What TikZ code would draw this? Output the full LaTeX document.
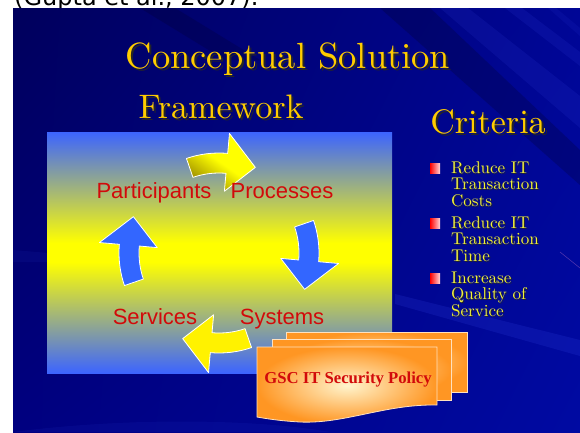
\documentclass[tikz,border=0pt]{standalone}
\usepackage{fontspec}
\newfontfamily\labelfont{Liberation Sans}
\newfontfamily\citefont{DejaVu Sans}
\newfontfamily\policyfont{Liberation Serif}
\newfontfamily\headfont{lmroman10-regular.otf}
\usetikzlibrary{calc,shadings}

\definecolor{slidedark}{RGB}{0,0,92}
\definecolor{slidemid}{RGB}{0,0,128}
\definecolor{slideright}{RGB}{0,6,150}
\definecolor{slidelowright}{RGB}{0,10,162}
\definecolor{streakblue}{RGB}{70,90,255}
\definecolor{streakpink}{RGB}{200,120,200}
\definecolor{fwblue}{RGB}{60,100,255}
\definecolor{cycblue}{RGB}{51,102,255}
\definecolor{arrowdark}{RGB}{160,145,0}
\definecolor{labelred}{RGB}{210,10,10}
\definecolor{titlegold}{RGB}{255,204,0}
\definecolor{crityellow}{RGB}{240,240,60}
\definecolor{docorange}{RGB}{255,150,35}
\definecolor{doccream}{RGB}{255,244,205}
\definecolor{docedge}{RGB}{255,225,190}
\definecolor{bulletpink}{RGB}{255,215,220}

% panel: blue top and bottom, a yellow band across the middle
\pgfdeclareverticalshading{panelshade}{100bp}{%
  color(0bp)=(fwblue); color(25bp)=(fwblue); color(48bp)=(yellow);
  color(52bp)=(yellow); color(75bp)=(fwblue); color(100bp)=(fwblue)}
% top arrow: yellow, darkening towards the underside of its head
\pgfdeclareverticalshading{arrowshade}{100bp}{%
  color(0bp)=(arrowdark); color(27bp)=(arrowdark); color(50bp)=(yellow);
  color(100bp)=(yellow)}

\tikzset{
  headtext/.style={anchor=base, inner sep=0pt, text=titlegold},
  crittext/.style={anchor=base west, inner sep=0pt, text=crityellow,
    font=\headfont\fontsize{17}{17}\selectfont},
  cyclabel/.style={anchor=base, inner sep=0pt, text=labelred,
    font=\labelfont\fontsize{22}{22}\selectfont},
  bluearrow/.style={fill=cycblue, draw=white, line width=0.8pt, line join=round},
  yellowarrow/.style={fill=yellow, draw=white, line width=0.8pt, line join=round},
  doc/.style={inner color=doccream, outer color=docorange,
    draw=docedge, line width=0.8pt},
  bulletbox/.style={minimum size=10pt, inner sep=0pt,
    left color=red, right color=bulletpink},
  streak/.style={fill=streakblue},
}

% text with a dark drop shadow: name, position, style, text
\newcommand{\stext}[5][1.5pt]{%
  \node[#4, text=black!85, xshift=#1, yshift=-#1] (#2-sh) at (#3) {#5};
  \node[#4] (#2) at (#3) {#5};}

% one arrow of the cycle, starting at angle #1 (clockwise on the page)
\newcommand{\cycarrow}[2]{%
  \path[#2] ($(c)+(#1:100)$) arc[start angle=#1, end angle=#1+24, radius=100]
    -- ($(c)+(#1+24:120)$) -- ($(c)+(#1+42:93)$) -- ($(c)+(#1+24:62)$)
    -- ($(c)+(#1+24:80)$) arc[start angle=#1+24, end angle=#1, radius=80]
    -- cycle;}

\begin{document}
\begin{tikzpicture}[x=1pt, y=-1pt]
\useasboundingbox (0,0) rectangle (580,432);
\fill[white] (0,0) rectangle (580,432);

% citation line above the slide, cut by the page edge
\begin{scope}
  \clip (0,0) rectangle (580,8);
  \node[anchor=base west, inner sep=0pt, font=\citefont\fontsize{24}{24}\selectfont]
    (cite) at (14,5) {(Gupta et al., 2007).};
\end{scope}

% slide background
\shade[upper left=slidedark, upper right=slideright,
       lower left=slidemid, lower right=slidelowright] (13,8) rectangle (580,432);
\begin{scope}
  \clip (13,8) rectangle (580,432);
  \fill[streak, opacity=.10] (440,8) -- (468,8) -- (580,96) -- (580,128) -- cycle;
  \fill[streak, opacity=.10] (505,8) -- (522,8) -- (580,52) -- (580,66) -- cycle;
  \fill[streak, opacity=.08] (548,8) -- (556,8) -- (580,28) -- (580,36) -- cycle;
  \fill[black, opacity=.18] (380,8) -- (430,8) -- (580,150) -- (580,185) -- cycle;
  \fill[black, opacity=.15] (140,8) -- (175,8) -- (260,60) -- (225,60) -- cycle;
  \fill[streak, opacity=.14] (395,294) -- (580,340) -- (580,356) -- (395,304) -- cycle;
  \fill[streak, opacity=.07] (13,250) -- (60,254) -- (60,262) -- (13,262) -- cycle;
  \fill[streak, opacity=.07] (13,432) .. controls (120,418) and (250,418) .. (330,432) -- cycle;
  \draw[streakpink, opacity=.5] (560,252) -- (580,268);
\end{scope}

% headings
\stext[2pt]{title}{288,68}{headtext, font=\headfont\fontsize{36.5}{36.5}\selectfont}{Conceptual Solution}
\stext[2pt]{framework}{221,118}{headtext, font=\headfont\fontsize{34}{34}\selectfont}{Framework}
\stext[2pt]{criteria}{488,133}{headtext, font=\headfont\fontsize{34}{34}\selectfont}{Criteria}

% framework panel
\node[minimum width=345pt, minimum height=241pt, inner sep=0pt,
      shading=panelshade] (frame) at (219.5,252.5) {};

% cycle of four curved arrows
\coordinate (c) at (219,253);
\cycarrow{-109}{yellowarrow, shading=arrowshade, shading angle=-35}
\cycarrow{-19}{bluearrow}
\cycarrow{71}{yellowarrow}
\cycarrow{161}{bluearrow}

% cycle labels
\node[cyclabel] (participants) at (154,198) {Participants};
\node[cyclabel] (processes) at (282,198) {Processes};
\node[cyclabel] (systems) at (282,324) {Systems};
\node[cyclabel] (services) at (155,324) {Services};

% criteria list
\node[bulletbox] (b1) at (435,168) {};
\node[bulletbox] (b2) at (435,223) {};
\node[bulletbox] (b3) at (435,278.5) {};
\stext[1pt]{c1a}{451,173}{crittext}{Reduce IT}
\stext[1pt]{c1b}{451,189.5}{crittext}{Transaction}
\stext[1pt]{c1c}{451,206}{crittext}{Costs}
\stext[1pt]{c2a}{451,228}{crittext}{Reduce IT}
\stext[1pt]{c2b}{451,244.5}{crittext}{Transaction}
\stext[1pt]{c2c}{451,261}{crittext}{Time}
\stext[1pt]{c3a}{451,283}{crittext}{Increase}
\stext[1pt]{c3b}{451,299.5}{crittext}{Quality of}
\stext[1pt]{c3c}{451,316}{crittext}{Service}

% stacked policy documents
\path[doc] (286,332) rectangle (467,392);
\path[doc] (272,339) rectangle (451,400);
\path[doc] (257,347) -- (437,347) -- (437,405)
  .. controls (385,404) and (345,424) .. (300,422)
  .. controls (282,421) and (268,419) .. (257,417) -- cycle;
\node[anchor=base, inner sep=0pt, text=labelred,
      font=\policyfont\bfseries\fontsize{16.7}{16.7}\selectfont]
  (policy) at (348,383) {GSC IT Security Policy};
\end{tikzpicture}
\end{document}
